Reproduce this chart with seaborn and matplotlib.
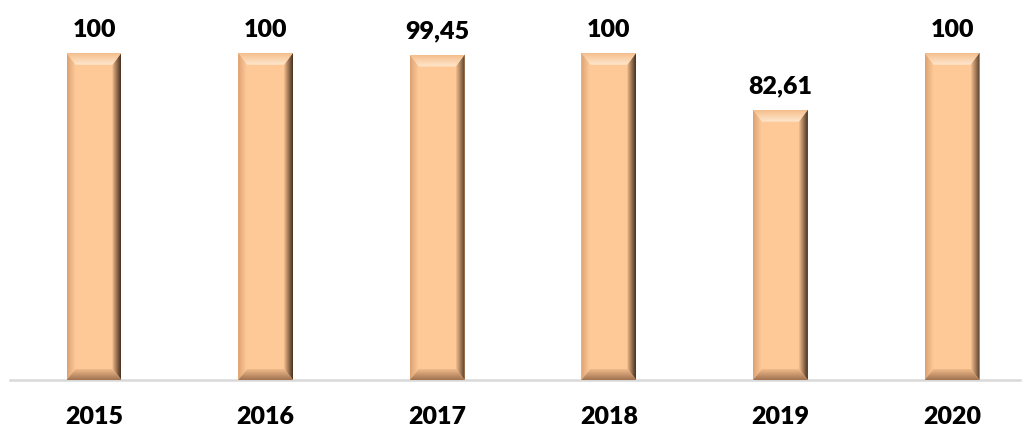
import numpy as np
import matplotlib
matplotlib.use('Agg')
import matplotlib.pyplot as plt
from matplotlib.patches import Polygon
from matplotlib.colors import to_rgb
import seaborn as sns

years = ['2015', '2016', '2017', '2018', '2019', '2020']
values = [100, 100, 99.45, 100, 82.61, 100]
value_labels = ['100', '100', '99,45', '100', '82,61', '100']

FACE = '#FFC897'
FONT = ['Lato', 'DejaVu Sans']
WEIGHT = 'heavy'


def gradient_face(ax, poly_disp, c_out, c_in, direction):
    # poly_disp in display coords, gradient runs along given direction
    inv = ax.transData.inverted()
    poly = inv.transform(np.array(poly_disp))
    xmin, ymin = poly.min(axis=0)
    xmax, ymax = poly.max(axis=0)
    t = np.linspace(0, 1, 64)
    a, b = np.array(to_rgb(c_out)), np.array(to_rgb(c_in))
    cols = a[None, :] * (1 - t[:, None]) + b[None, :] * t[:, None]
    if direction == 'left':      # outer on left
        img = cols[None, :, :]
    elif direction == 'right':   # outer on right
        img = cols[::-1][None, :, :]
    elif direction == 'top':     # outer on top (origin lower)
        img = cols[::-1][:, None, :]
    else:                        # outer on bottom
        img = cols[:, None, :]
    im = ax.imshow(img, extent=[xmin, xmax, ymin, ymax], origin='lower',
                   aspect='auto', interpolation='bilinear', zorder=3)
    im.set_clip_path(Polygon(poly, closed=True, transform=ax.transData))


def add_bevel(ax, patch, bs=9, bt=12, bb=11):
    x, w, h = patch.get_x(), patch.get_width(), patch.get_height()
    X0, Y0 = ax.transData.transform((x, 0))
    X1, Y1 = ax.transData.transform((x + w, h))
    top = [(X0, Y1), (X1, Y1), (X1 - bs, Y1 - bt), (X0 + bs, Y1 - bt)]
    left = [(X0, Y1), (X0 + bs, Y1 - bt), (X0 + bs, Y0 + bb), (X0, Y0)]
    right = [(X1, Y1), (X1 - bs, Y1 - bt), (X1 - bs, Y0 + bb), (X1, Y0)]
    bottom = [(X0, Y0), (X1, Y0), (X1 - bs, Y0 + bb), (X0 + bs, Y0 + bb)]
    gradient_face(ax, left, '#DDA170', '#FFCB9C', 'left')
    gradient_face(ax, right, '#45301F', '#F4BE8E', 'right')
    gradient_face(ax, bottom, '#A07250', '#F0BA8A', 'bottom')
    gradient_face(ax, top, '#F4BE8C', '#FFE8CE', 'top')


def main():
    fig = plt.figure(figsize=(10.28, 4.30), dpi=100)
    ax = fig.add_axes([10 / 1028, 50 / 430, 1010 / 1028, 360 / 430])
    sns.barplot(x=years, y=values, color=FACE, width=0.32, saturation=1,
                linewidth=0, ax=ax)
    ax.set_xlim(-0.4895, 5.396)
    ax.set_ylim(0, 110)

    for s in ['top', 'right', 'left']:
        ax.spines[s].set_visible(False)
    ax.spines['bottom'].set_color('#D9D9D9')
    ax.spines['bottom'].set_linewidth(1.8)
    ax.set_yticks([])
    ax.set_xlabel('')
    ax.tick_params(axis='x', length=0, pad=19)
    for t in ax.get_xticklabels():
        t.set_fontfamily(FONT)
        t.set_fontweight(WEIGHT)
        t.set_fontsize(18)

    for p, lbl in zip(ax.patches, value_labels):
        add_bevel(ax, p)
        ax.annotate(lbl, (p.get_x() + p.get_width() / 2, p.get_height()),
                    xytext=(0, 11.5), textcoords='offset points',
                    ha='center', va='baseline', fontsize=18,
                    fontweight=WEIGHT, family=FONT, color='black')

    ax.set_xlim(-0.4895, 5.396)
    ax.set_ylim(0, 110)
    fig.savefig('out.png', dpi=100)


if __name__ == "__main__":
    main()
